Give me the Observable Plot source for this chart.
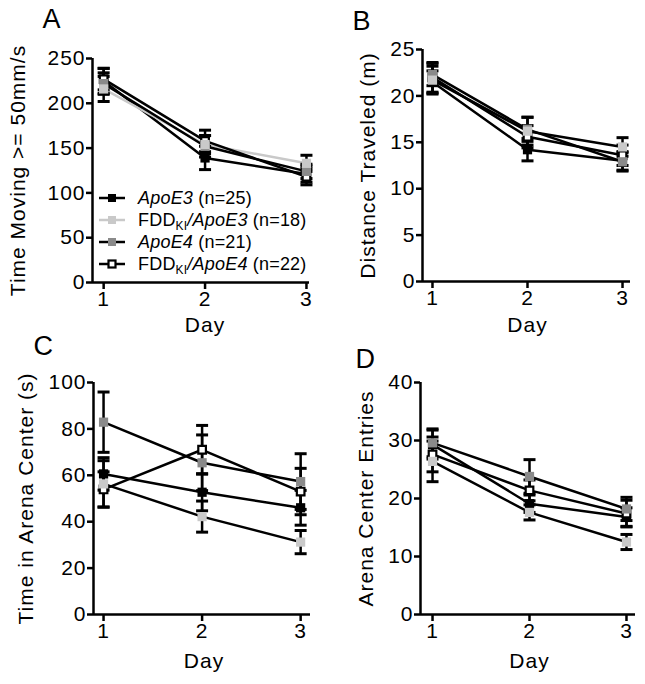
<!DOCTYPE html>
<html>
<head>
<meta charset="utf-8">
<script src="https://cdn.jsdelivr.net/npm/d3@7"></script>
<script src="https://cdn.jsdelivr.net/npm/@observablehq/plot@0.6"></script>
<style>
  body { margin: 0; background: #fff; }
  #fig { position: relative; width: 645px; height: 684px; overflow: hidden; background: #fff;
         font-family: "Liberation Sans", Arial, sans-serif; color: #000; }
  #fig > svg { position: absolute; }
  .legend { position: absolute; left: 99px; top: 187px; font-size: 18px; letter-spacing: 0.2px; line-height: 22px; }
  .legend .row { display: flex; align-items: center; height: 22px; white-space: nowrap; }
  .legend svg { margin-right: 13px; }
  .legend sub { font-size: 12px; vertical-align: -4px; line-height: 0; }
</style>
</head>
<body>
<div id="fig"></div>
<script>
// ---------- data ----------
const days = [1, 2, 3];
const genotypes = ["ApoE3", "ApoE3", "ApoE4", "ApoE4"];
const fddKI = [false, true, false, true];
const groupN = [25, 18, 21, 22];

// A: Time Moving >= 50mm/s  (rows: ApoE3, FDDKI/ApoE3, ApoE4, FDDKI/ApoE4; cols: day 1..3)
const timeMovingMean = [[225, 139, 121], [216, 154, 133], [222, 152, 124], [227, 158, 118]];
const timeMovingSem  = [[14, 13, 9], [14, 10, 9], [12, 12, 8], [12, 12, 9]];
// B: Distance Traveled (m)
const distanceMean = [[21.5, 14.2, 13.0], [21.7, 16.2, 14.5], [22.3, 16.4, 12.9], [22.0, 15.6, 13.6]];
const distanceSem  = [[1.2, 1.2, 1.0], [1.5, 1.5, 1.0], [1.2, 1.3, 1.0], [1.6, 1.2, 1.1]];
// C: Time in Arena Center (s)
const centerTimeMean = [[60.6, 52.7, 46.0], [56.3, 42.2, 31.2], [82.9, 65.4, 57.3], [53.9, 71.0, 53.0]];
const centerTimeSem  = [[7, 8, 7.5], [10, 6.7, 5], [13, 12, 12], [7.6, 10.5, 10]];
// D: Arena Center Entries
const entriesMean = [[29.3, 19.1, 16.8], [26.4, 17.6, 12.5], [29.6, 23.8, 18.2], [27.6, 21.4, 17.4]];
const entriesSem  = [[2.5, 1.5, 1.6], [3.5, 1.3, 1.3], [2.4, 2.9, 2.0], [3.0, 1.8, 2.3]];

const ticksA = [0, 50, 100, 150, 200, 250];
const ticksB = [0, 5, 10, 15, 20, 25];
const ticksC = [0, 20, 40, 60, 80, 100];
const ticksD = [0, 10, 20, 30, 40];

// ---------- styles ----------
const fillColors = ["#000000", "#c9c9c9", "#8a8a8a", "#ffffff"];
const markerOrder = [0, 3, 2, 1]; // drawing order of the symbols
const BLACK = "#000";
const SW = 2.5;

function toRows(means, sems) {
  return means.flatMap((m, i) => days.map((d, j) => ({ idx: i, day: d, mean: m[j], sem: sems[i][j] })));
}

// horizontal cap symbol for error bars
const capSymbol = {
  draw(context, size) {
    const r = Math.sqrt(size / Math.PI);
    context.moveTo(-r, 0);
    context.lineTo(r, 0);
  }
};

const fig = document.getElementById("fig");

function panel(cfg) {
  const rows = toRows(cfg.means, cfg.sems);
  const lineColors = cfg.lineColors || [BLACK, BLACK, BLACK, BLACK];
  const markerMarks = markerOrder.map(k => k === 3
    ? Plot.dot(rows.filter(d => d.idx === 3), { x: "day", y: "mean", symbol: "square", r: 4.3, fill: fillColors[3], stroke: BLACK, strokeWidth: 2.2 })
    : Plot.dot(rows.filter(d => d.idx === k), { x: "day", y: "mean", symbol: "square", r: 5.2, fill: fillColors[k], stroke: "none" }));
  const chart = Plot.plot({
    width: cfg.width,
    height: cfg.height,
    marginLeft: cfg.ml, marginRight: cfg.mr, marginTop: cfg.mt, marginBottom: cfg.mb,
    style: { background: "transparent", overflow: "visible", fontFamily: "'Liberation Sans', Arial, sans-serif",
             fontSize: "21px", letterSpacing: "1px", color: "#000" },
    x: { domain: cfg.xDomain, label: null },
    y: { domain: [cfg.yTicks[0], cfg.yTicks[cfg.yTicks.length - 1]], label: null },
    marks: [
      Plot.axisX({ ticks: days, tickFormat: d => String(d), tickSize: 7, tickPadding: 2, strokeWidth: SW, label: null, fontSize: 21 }),
      Plot.axisY({ ticks: cfg.yTicks, tickFormat: d => String(d), tickSize: 6, tickPadding: 1, strokeWidth: SW, label: null, fontSize: 21 }),
      Plot.ruleY([cfg.yTicks[0]], { stroke: BLACK, strokeWidth: SW }),
      Plot.ruleX([cfg.xDomain[0]], { stroke: BLACK, strokeWidth: SW }),
      Plot.line(rows, { x: "day", y: "mean", z: "idx", stroke: d => lineColors[d.idx], strokeWidth: SW }),
      Plot.ruleX(rows, { x: "day", y1: d => d.mean - d.sem, y2: d => d.mean + d.sem, stroke: BLACK, strokeWidth: SW }),
      Plot.dot(rows, { x: "day", y: d => d.mean + d.sem, symbol: capSymbol, r: 6, stroke: BLACK, fill: "none", strokeWidth: 3 }),
      Plot.dot(rows, { x: "day", y: d => d.mean - d.sem, symbol: capSymbol, r: 6, stroke: BLACK, fill: "none", strokeWidth: 3 }),
      ...markerMarks,
      Plot.text([cfg.yLabel], { frameAnchor: "left", dx: cfg.yLabelDx, rotate: -90, fontSize: 21, textAnchor: "middle" }),
      Plot.text(["Day"], { frameAnchor: "bottom", dx: cfg.dayDx, dy: cfg.dayDy, lineAnchor: "top", fontSize: 21, textAnchor: "middle" }),
      Plot.text([cfg.letter], { frameAnchor: "top-left", dx: cfg.letterDx, dy: cfg.letterDy, lineAnchor: "top", textAnchor: "start", fontSize: 27, letterSpacing: "0px" })
    ]
  });
  chart.style.left = cfg.left + "px";
  chart.style.top = cfg.top + "px";
  chart.style.width = cfg.width + "px";
  chart.style.height = cfg.height + "px";
  chart.style.maxWidth = "none";
  fig.appendChild(chart);
}

panel({ letter: "A", means: timeMovingMean, sems: timeMovingSem, yTicks: ticksA, yLabel: "Time Moving >= 50mm/s",
  left: 0, top: 0, width: 320, height: 340, ml: 92, mr: 11, mt: 58, mb: 58, xDomain: [0.89, 3.03],
  lineColors: [BLACK, "#c9c9c9", BLACK, BLACK],
  yLabelDx: -74, dayDx: 4, dayDy: 35, letterDx: -50, letterDy: -50 });

panel({ letter: "B", means: distanceMean, sems: distanceSem, yTicks: ticksB, yLabel: "Distance Traveled (m)",
  left: 320, top: 0, width: 325, height: 340, ml: 102, mr: 15, mt: 49, mb: 59, xDomain: [0.895, 3.084],
  yLabelDx: -54, dayDx: 1, dayDy: 36, letterDx: -70, letterDy: -39 });

panel({ letter: "C", means: centerTimeMean, sems: centerTimeSem, yTicks: ticksC, yLabel: "Time in Arena Center (s)",
  left: 0, top: 320, width: 320, height: 364, ml: 93, mr: 10, mt: 62, mb: 70, xDomain: [0.898, 3.10],
  yLabelDx: -67, dayDx: 2, dayDy: 39, letterDx: -60, letterDy: -47 });

panel({ letter: "D", means: entriesMean, sems: entriesSem, yTicks: ticksD, yLabel: "Arena Center Entries",
  left: 320, top: 320, width: 325, height: 364, ml: 100, mr: 10, mt: 62, mb: 70, xDomain: [0.876, 3.093],
  yLabelDx: -54, dayDx: 1.5, dayDy: 39, letterDx: -65, letterDy: -34 });

// ---------- legend (panel A) ----------
const legendLineColors = [BLACK, "#c9c9c9", BLACK, BLACK];
const legend = d3.select(fig).append("div").attr("class", "legend");
genotypes.forEach((g, i) => {
  const row = legend.append("div").attr("class", "row");
  const svg = row.append("svg").attr("width", 26).attr("height", 14);
  svg.append("line").attr("x1", 0).attr("x2", 26).attr("y1", 7).attr("y2", 7)
    .attr("stroke", legendLineColors[i]).attr("stroke-width", 2.5);
  const s = i === 3 ? 7 : 8;
  svg.append("rect").attr("x", 13 - s / 2).attr("y", 7 - s / 2).attr("width", s).attr("height", s)
    .attr("fill", fillColors[i]).attr("stroke", i === 3 ? BLACK : "none").attr("stroke-width", 2.2);
  const span = row.append("span");
  if (fddKI[i]) {
    span.append("span").text("FDD");
    span.append("sub").text("KI");
    span.append("i").text("/" + g);
  } else {
    span.append("i").text(g);
  }
  span.append("span").text(" (n=" + groupN[i] + ")");
});
</script>
</body>
</html>
